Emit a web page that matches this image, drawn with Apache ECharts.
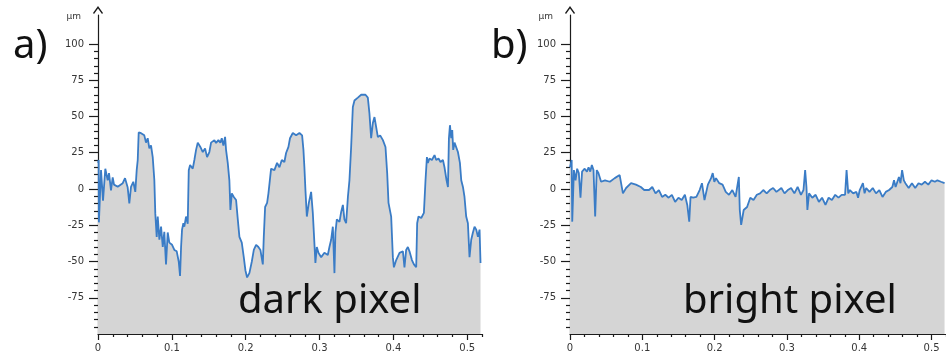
<!DOCTYPE html>
<html><head><meta charset="utf-8">
<script src="https://cdn.jsdelivr.net/npm/echarts@6/dist/echarts.min.js"></script>
<style>html,body{margin:0;padding:0;background:#fff}#c{width:946px;height:361px}</style>
</head><body><div id="c"></div>
<script>
// Height profile (x, µm) of the dark pixel, panel a
const leftProfile = [[0,18],[0.0009,20],[0.0012,-23],[0.0041,13],[0.0068,-8],[0.0099,14],[0.0131,6],[0.0149,11],[0.0176,-1],[0.0199,8],[0.0217,3],[0.0267,1.5],[0.0335,4],[0.0366,7.5],[0.0402,1],[0.0424,-10],[0.0447,1.5],[0.0478,5],[0.0505,-2],[0.0524,13],[0.0538,20],[0.0551,39],[0.0583,38.5],[0.0627,37],[0.0650,32],[0.0673,35],[0.0695,28],[0.0718,30],[0.0741,22],[0.0763,6],[0.0776,-17],[0.0795,-33],[0.0809,-19],[0.0831,-35],[0.0854,-26],[0.0877,-40],[0.0898,-29.6],[0.0921,-52],[0.0944,-30],[0.0966,-37],[0.1003,-38.5],[0.1034,-42],[0.1066,-43],[0.1093,-50],[0.1111,-60],[0.1125,-40],[0.1138,-28],[0.1156,-23.6],[0.1169,-26],[0.1192,-19],[0.1215,-24],[0.1229,13],[0.1247,16.5],[0.1283,14],[0.1305,20],[0.1328,27],[0.1351,32],[0.1386,29],[0.1419,25.5],[0.1450,28],[0.1477,22],[0.1508,25.5],[0.1531,32],[0.1576,33.7],[0.1599,31.7],[0.1630,33.7],[0.1657,32],[0.1676,35],[0.1698,30],[0.1721,36],[0.1734,27],[0.1757,18],[0.1779,6],[0.1793,-14.5],[0.1812,-3],[0.1839,-5.5],[0.1870,-7.6],[0.1893,-21],[0.1915,-33],[0.1947,-37],[0.1974,-47],[0.1996,-56],[0.2019,-61],[0.2050,-58],[0.2083,-50],[0.2110,-42],[0.2141,-38.5],[0.2172,-40],[0.2199,-42],[0.2232,-52],[0.2245,-33],[0.2263,-12.4],[0.2290,-9.6],[0.2308,-3],[0.2327,6],[0.2344,14],[0.2389,13],[0.2425,18],[0.2457,15],[0.2489,20],[0.2524,18.6],[0.2547,24.8],[0.2579,29],[0.2600,35],[0.2638,38.6],[0.2683,37],[0.2728,38.6],[0.2764,37],[0.2782,27],[0.2795,15],[0.2809,-0.7],[0.2828,-19],[0.2855,-9.6],[0.2886,-2],[0.2909,-16.5],[0.2930,-37],[0.2944,-51],[0.2963,-40],[0.2985,-44],[0.3022,-47],[0.3066,-44],[0.3112,-45.5],[0.3134,-40],[0.3157,-35],[0.3180,-26],[0.3202,-58],[0.3215,-30],[0.3234,-21],[0.3270,-22.7],[0.3293,-15.8],[0.3316,-11],[0.3337,-21],[0.3360,-23.6],[0.3384,-5.5],[0.3405,6],[0.3428,29],[0.3451,56.5],[0.3473,61],[0.3519,63],[0.3564,65],[0.3622,65],[0.3654,63],[0.3676,52],[0.3699,35],[0.3722,45.5],[0.3744,49.6],[0.3767,42.7],[0.3790,35.8],[0.3821,37],[0.3858,33.7],[0.3893,29],[0.3902,30],[0.3916,11],[0.3934,-9.6],[0.3947,-9],[0.3970,-19],[0.3993,-47],[0.4007,-54],[0.4038,-49],[0.4083,-44],[0.4129,-43],[0.4150,-54],[0.4173,-42],[0.4196,-40],[0.4218,-43],[0.4251,-49],[0.4278,-52],[0.4309,-54],[0.4322,-23.6],[0.4340,-19],[0.4377,-20],[0.4413,-16.5],[0.4435,6],[0.4454,22],[0.4467,18],[0.4489,21],[0.4522,20],[0.4557,23.4],[0.4580,20],[0.4611,21],[0.4638,18.6],[0.4671,20],[0.4692,15],[0.4720,6],[0.4739,1.4],[0.4752,35],[0.4766,44],[0.4783,35],[0.4797,40.6],[0.4810,27],[0.4828,32],[0.4851,31.7],[0.4874,25.5],[0.4901,18],[0.4919,6],[0.4942,1.4],[0.4963,-5.5],[0.4986,-19],[0.5009,-23.6],[0.5031,-47],[0.5054,-35],[0.5077,-30],[0.5099,-26],[0.5122,-28],[0.5145,-33],[0.5167,-28],[0.5180,-51]];

// Height profile (x, µm) of the bright pixel, panel b
const rightProfile = [[0,15],[0.0023,20],[0.0031,-22.5],[0.0054,13],[0.0077,6],[0.0099,14],[0.0122,11],[0.0145,-6],[0.0167,12],[0.0203,14],[0.0234,12],[0.0257,15],[0.0280,12],[0.0302,16.5],[0.0325,13],[0.0348,-19],[0.0370,13],[0.0393,11],[0.0430,5],[0.0484,6],[0.0551,5],[0.0619,7.5],[0.0687,9.6],[0.0732,-3],[0.0776,0.7],[0.0844,4],[0.0912,3],[0.0980,1.4],[0.1026,-0.7],[0.1093,-0.7],[0.1138,1.4],[0.1183,-3],[0.1229,-0.7],[0.1274,-5.5],[0.1318,-4],[0.1364,-6],[0.1409,-4],[0.1454,-8.9],[0.1500,-6],[0.1545,-7.6],[0.1589,-4],[0.1622,-11],[0.1649,-22.5],[0.1667,-5.5],[0.1703,-6],[0.1748,-5.5],[0.1793,-0.7],[0.1825,4],[0.1860,-7.6],[0.1907,3],[0.1951,7.5],[0.1974,11],[0.1996,5],[0.2019,7.5],[0.2064,4],[0.2110,3],[0.2154,-2],[0.2199,-4],[0.2245,-0.7],[0.2290,-5.5],[0.2335,8.3],[0.2348,-14.5],[0.2367,-24.8],[0.2402,-14.5],[0.2449,-12.4],[0.2493,-6],[0.2538,-7.6],[0.2584,-4],[0.2629,-3],[0.2673,-0.7],[0.2720,-3],[0.2764,-0.7],[0.2809,0.7],[0.2855,-2],[0.2923,0.7],[0.2967,-3],[0.3012,-0.7],[0.3058,0.7],[0.3103,-3],[0.3148,1.4],[0.3194,-4],[0.3229,-0.7],[0.3252,13],[0.3270,1.4],[0.3283,-14.5],[0.3306,-3],[0.3351,-6],[0.3397,-4],[0.3442,-8.9],[0.3486,-6],[0.3533,-11],[0.3577,-6],[0.3622,-7.6],[0.3668,-4],[0.3713,-6],[0.3757,-4],[0.3804,-4],[0.3825,13],[0.3848,-3],[0.3871,-0.7],[0.3916,-3],[0.3961,-2],[0.3984,-6],[0.4007,-0.7],[0.4051,4],[0.4074,-3],[0.4096,0.7],[0.4142,-2],[0.4187,0.7],[0.4232,-3],[0.4278,-0.7],[0.4322,-5.5],[0.4367,-2],[0.4413,-0.7],[0.4458,1.4],[0.4481,6],[0.4503,1.4],[0.4549,8.3],[0.4570,4],[0.4593,13],[0.4617,6],[0.4638,4],[0.4684,0.7],[0.4729,4],[0.4774,0.7],[0.4820,4],[0.4864,3],[0.4909,5],[0.4955,3],[0.5000,6],[0.5046,5],[0.5081,6],[0.5130,5],[0.5180,4]];

const yMajorTicks = [-75, -50, -25, 0, 25, 50, 75, 100];
const yMinorTicks = [-95,-90,-85,-80,-70,-65,-60,-55,-45,-40,-35,-30,-20,-15,-10,-5,5,10,15,20,30,35,40,45,55,60,65,70,80,85,90,95];
const xMajorTicks = [0, 0.1, 0.2, 0.3, 0.4, 0.5];
const xMinorTicks = [0.02,0.04,0.06,0.08,0.12,0.14,0.16,0.18,0.22,0.24,0.26,0.28,0.32,0.34,0.36,0.38,0.42,0.44,0.46,0.48,0.52];
const panelLabels = ['a)', 'b)'];
const panelNames = ['dark pixel', 'bright pixel'];
const yUnit = 'µm';
const profiles = [leftProfile, rightProfile];

const AX = '#1c1c1c';
const LBL = '#363636';
const grids = [
  {left: 98, top: 15, width: 384, height: 319},
  {left: 570, top: 15, width: 384, height: 319}
];
const arrowPath = 'path://M5,0 L10,7 L9,7.8 L5,2.3 L1,7.8 L0,7 Z';
const xAxes = [], yAxes = [], series = [];
grids.forEach((g, i) => {
  xAxes.push({gridIndex: i, type: 'value', position: 'bottom', min: 0, max: 0.52,
    axisLine: {show: true, onZero: false, lineStyle: {color: AX, width: 1.2}},
    axisTick: {show: true, customValues: xMajorTicks, length: 6, lineStyle: {color: AX, width: 1.2}},
    axisLabel: {customValues: xMajorTicks, fontSize: 10, color: LBL, margin: 9, fontFamily: 'DejaVu Sans'},
    splitLine: {show: false}});
  xAxes.push({gridIndex: i, type: 'value', position: 'bottom', min: 0, max: 0.52,
    axisLine: {show: false, onZero: false},
    axisTick: {show: true, customValues: xMinorTicks, length: 3, lineStyle: {color: AX, width: 1.2}},
    axisLabel: {show: false}, splitLine: {show: false}});
  yAxes.push({gridIndex: i, type: 'value', position: 'left', min: -100, max: 120,
    axisLine: {show: true, onZero: false, lineStyle: {color: AX, width: 1.2}, symbol: ['none', arrowPath], symbolSize: [10, 8], symbolOffset: [0, 5]},
    axisTick: {show: true, customValues: yMajorTicks, length: 9, lineStyle: {color: AX, width: 1.2}},
    axisLabel: {customValues: yMajorTicks, fontSize: 10, color: LBL, margin: 14, fontFamily: 'DejaVu Sans'},
    splitLine: {show: false}});
  yAxes.push({gridIndex: i, type: 'value', position: 'left', min: -100, max: 120,
    axisLine: {show: false, onZero: false},
    axisTick: {show: true, customValues: yMinorTicks, length: 4, lineStyle: {color: AX, width: 1.2}},
    axisLabel: {show: false}, splitLine: {show: false}});
  series.push({type: 'line', xAxisIndex: i * 2, yAxisIndex: i * 2, data: profiles[i],
    symbol: 'none', showSymbol: false, z: 2,
    lineStyle: {color: '#3a7cc6', width: 1.8},
    areaStyle: {color: '#d5d5d5', origin: 'start', opacity: 1}});
});

const graphic = [];
const panelX = [13, 491];
const unitX = [81, 553];
const nameX = [238, 683];
panelLabels.forEach((t, i) => {
  graphic.push({type: 'text', z: 100, style: {text: t, x: panelX[i], y: 47, fill: '#111', fontSize: 40, fontFamily: 'Noto Sans', textVerticalAlign: 'middle'}});
  graphic.push({type: 'text', z: 100, style: {text: yUnit, x: unitX[i], y: 17, fill: LBL, fontSize: 9, fontFamily: 'DejaVu Sans', textAlign: 'right', textVerticalAlign: 'middle'}});
  graphic.push({type: 'text', z: 100, style: {text: panelNames[i], x: nameX[i], y: 302, fill: '#111', fontSize: 40, fontFamily: 'Noto Sans', textVerticalAlign: 'middle'}});
});

const chart = echarts.init(document.getElementById('c'), null, {renderer: 'canvas'});
chart.setOption({
  backgroundColor: '#ffffff',
  animation: false,
  grid: grids,
  xAxis: xAxes,
  yAxis: yAxes,
  series: series,
  graphic: graphic
});
</script></body></html>
